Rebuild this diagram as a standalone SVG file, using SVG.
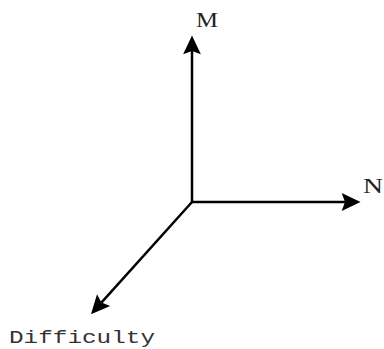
<svg xmlns="http://www.w3.org/2000/svg" width="384" height="349" viewBox="0 0 384 349">
<defs>
<style>
.axis{stroke:#000;stroke-width:2.5;fill:none}
.lbl{font-family:"Liberation Serif",serif;font-size:21px;fill:#222}
.mono{font-family:"Liberation Mono",monospace;font-size:19px;fill:#333}
</style>
<marker id="ah" markerUnits="userSpaceOnUse" markerWidth="20" markerHeight="20" viewBox="0 -9 18 18" refX="3" refY="0" orient="auto" overflow="visible">
<path d="M0,-8 L17,0 L0,8 L3,0 z" fill="#000"/>
</marker>
</defs>
<g id="connectors">
<line class="axis" x1="192" y1="202" x2="192" y2="51" marker-end="url(#ah)"/>
<line class="axis" x1="191" y1="202" x2="345" y2="202" marker-end="url(#ah)"/>
<line class="axis" x1="192" y1="202" x2="101.4" y2="302.6" marker-end="url(#ah)"/>
</g>
<g id="M"><text class="lbl" x="196" y="26.5" textLength="22" lengthAdjust="spacingAndGlyphs">M</text></g>
<g id="N"><text class="lbl" x="363" y="192.5" textLength="20" lengthAdjust="spacingAndGlyphs">N</text></g>
<g id="Difficulty"><text class="mono" x="9" y="343" textLength="146" lengthAdjust="spacingAndGlyphs">Difficulty</text></g>
</svg>
